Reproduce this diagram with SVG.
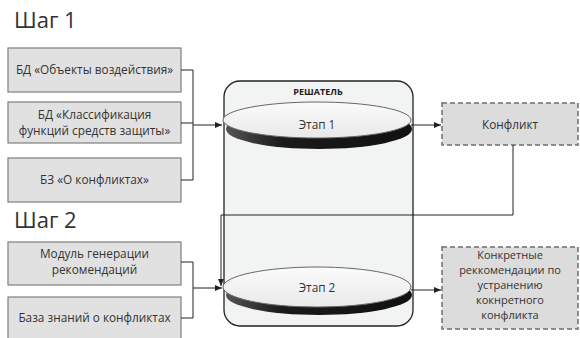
<svg xmlns="http://www.w3.org/2000/svg" width="580" height="338" viewBox="0 0 580 338">
<defs>
<style>
.box{fill:#e1e1e1;stroke:#7f7f7f;stroke-width:1.2}
.dbox{fill:#dcdcdc;stroke:#6d6d6d;stroke-width:1.5;stroke-dasharray:5 3}
.t{font-family:"Open Sans","Noto Sans",sans-serif;font-size:11.8px;fill:#333;text-anchor:middle}
.r{font-size:11px}
.h{font-family:"Open Sans","Noto Sans",sans-serif;font-size:22px;fill:#333}
.c{fill:none;stroke:#222;stroke-width:1}
.sh{fill:url(#s)}
.face{fill:url(#g);stroke:#666;stroke-width:1}
</style>
<linearGradient id="g" x1="0" y1="0" x2="0" y2="1">
<stop offset="0" stop-color="#fbfbfb"/>
<stop offset="1" stop-color="#e9e9e9"/>
</linearGradient>
<linearGradient id="s" x1="0" y1="0" x2="1" y2="0">
<stop offset="0" stop-color="#555"/>
<stop offset="0.3" stop-color="#1a1a1a"/>
<stop offset="1" stop-color="#111"/>
</linearGradient>
<marker id="a" markerWidth="8" markerHeight="8" refX="7" refY="4" orient="auto" markerUnits="userSpaceOnUse">
<path d="M0,1 L7,4 L0,7 Z" fill="#222"/>
</marker>
</defs>
<rect width="580" height="338" fill="#fff"/>
<text class="h" x="14" y="28">Шаг 1</text>
<text class="h" x="14" y="228">Шаг 2</text>

<g id="solver">
<rect x="224" y="81" width="189" height="245" rx="16" fill="#f2f3f3" stroke="#222" stroke-width="1.3"/>
<text x="318" y="95" font-family="'Open Sans','Noto Sans',sans-serif" font-size="9" font-weight="bold" fill="#222" text-anchor="middle">РЕШАТЕЛЬ</text>
</g>
<g id="stage1">
<ellipse class="sh" cx="319" cy="129" rx="93" ry="20"/>
<ellipse class="face" cx="317" cy="120" rx="94" ry="18"/>
<text class="t" x="317" y="129">Этап 1</text>
</g>
<g id="stage2">
<ellipse class="sh" cx="319" cy="295" rx="93" ry="20"/>
<ellipse class="face" cx="317" cy="287" rx="94" ry="20"/>
<text class="t" x="317" y="292">Этап 2</text>
</g>

<g id="db1"><rect class="box" x="8" y="48" width="173" height="44"/><text class="t" x="94.5" y="74">БД «Объекты воздействия»</text></g>
<g id="db2"><rect class="box" x="8" y="102" width="173" height="41"/><text class="t" x="94.5" y="119">БД «Классификация</text><text class="t" x="94.5" y="135">функций средств защиты»</text></g>
<g id="kb1"><rect class="box" x="8" y="158" width="173" height="44"/><text class="t" x="94.5" y="184">БЗ «О конфликтах»</text></g>
<g id="mod"><rect class="box" x="8" y="242" width="173" height="43"/><text class="t" x="94.5" y="258">Модуль генерации</text><text class="t" x="94.5" y="274">рекомендаций</text></g>
<g id="kb2"><rect class="box" x="8" y="297" width="173" height="45"/><text class="t" x="94.5" y="322">База знаний о конфликтах</text></g>
<g id="conflict"><rect class="dbox" x="442" y="103" width="136" height="42"/><text class="t" x="510" y="129">Конфликт</text></g>
<g id="recs"><rect class="dbox" x="442" y="247" width="136" height="82"/>
<text class="t r" x="510" y="259">Конкретные</text>
<text class="t r" x="510" y="274">реккомендации по</text>
<text class="t r" x="510" y="289">устранению</text>
<text class="t r" x="510" y="304">кокнретного</text>
<text class="t r" x="510" y="319">конфликта</text></g>

<g id="connectors">
<path class="c" d="M181,70 H193 V180 H181"/>
<path class="c" d="M181,123 H193"/>
<path class="c" d="M193,125 H222" marker-end="url(#a)"/>
<path class="c" d="M411,125 H441" marker-end="url(#a)"/>
<path class="c" d="M513,145 V215 H221 V286" marker-end="url(#a)"/>
<path class="c" d="M181,262 H193 V318 H181"/>
<path class="c" d="M193,288 H222" marker-end="url(#a)"/>
<path class="c" d="M411,290 H441" marker-end="url(#a)"/>
</g>
</svg>
